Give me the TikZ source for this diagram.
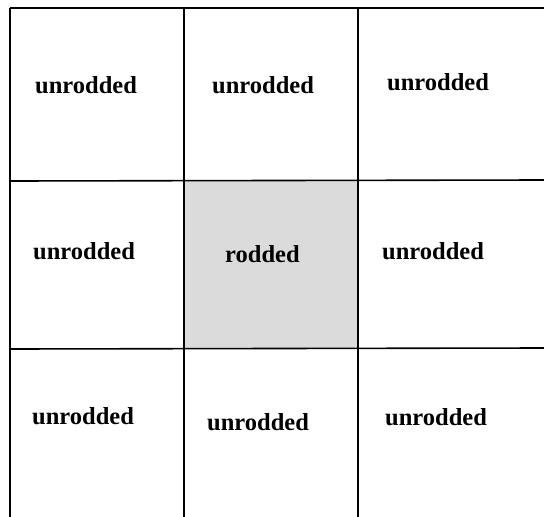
\documentclass[tikz,border=0pt]{standalone}
\usepackage{fontspec}
\setmainfont{Liberation Serif}
\begin{document}
\begin{tikzpicture}[x=1pt,y=-1pt,
  gridline/.style={line width=1.6pt,black},
  lbl/.style={anchor=base west,inner sep=0pt,font=\fontsize{24.5}{26}\selectfont\bfseries}]
\useasboundingbox (0,0) rectangle (544,517);
\fill[white] (0,0) rectangle (544,517);
\fill[gray!28] (184,181) rectangle (358,349);
% grid
\draw[gridline] (10,8) -- (10,517);
\draw[gridline] (184,8) -- (184,517);
\draw[gridline] (358,8) -- (358,517);
\draw[gridline] (10,8) -- (544,8);
\draw[gridline] (10,181) -- (544,180);
\draw[gridline] (10,349) -- (544,348);
% labels
\node[lbl] (a1) at (35,93) {unrodded};
\node[lbl] (a2) at (212,93) {unrodded};
\node[lbl] (a3) at (387,90) {unrodded};
\node[lbl] (b1) at (33,259) {unrodded};
\node[lbl] (b2) at (225,262) {rodded};
\node[lbl] (b3) at (382,259) {unrodded};
\node[lbl] (c1) at (32,424) {unrodded};
\node[lbl] (c2) at (207,430) {unrodded};
\node[lbl] (c3) at (385,425) {unrodded};
\end{tikzpicture}
\end{document}
